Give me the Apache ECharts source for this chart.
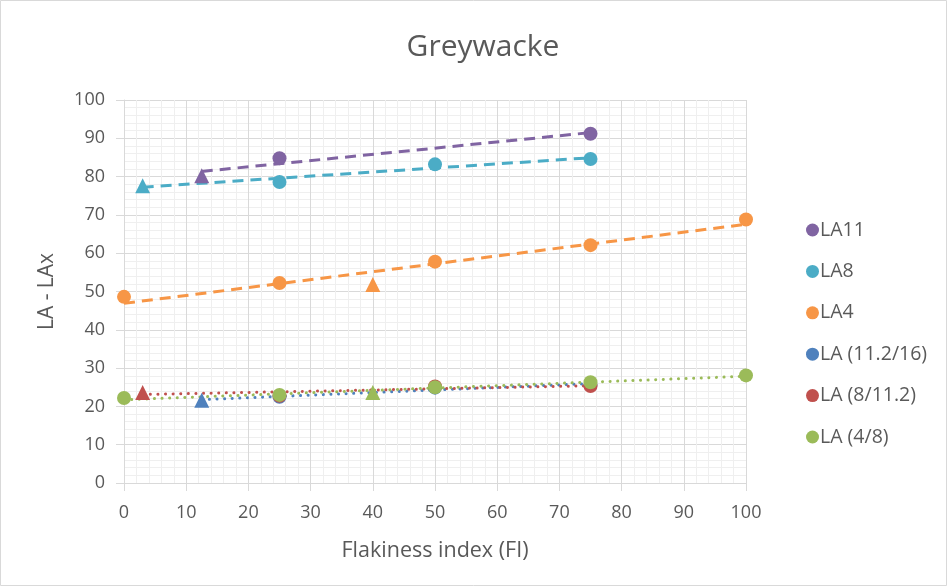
<!DOCTYPE html>
<html>
<head>
<meta charset="utf-8">
<script src="https://cdn.jsdelivr.net/npm/echarts@6/dist/echarts.min.js"></script>
<style>html,body{margin:0;padding:0;background:#fff;}#c{width:948px;height:587px;}</style>
</head>
<body>
<div id="c"></div>
<script>
// ---- data ----
const seriesNames = ['LA11', 'LA8', 'LA4', 'LA (11.2/16)', 'LA (8/11.2)', 'LA (4/8)'];
const colors = ['#8064A2', '#4BACC6', '#F79646', '#4F81BD', '#C0504D', '#9BBB59'];
// [FI, value, isTriangle]
const la11 = [[12.5, 80.2, 1], [25, 84.8, 0], [75, 91.2, 0]];
const la8 = [[3, 77.6, 1], [25, 78.6, 0], [50, 83.2, 0], [75, 84.6, 0]];
const la4 = [[0, 48.6, 0], [25, 52.2, 0], [40, 51.8, 1], [50, 57.8, 0], [75, 62.1, 0], [100, 68.8, 0]];
const la11_2_16 = [[12.5, 21.6, 1], [25, 22.5, 0], [50, 24.9, 0], [75, 25.6, 0]];
const la8_11_2 = [[3, 23.6, 1], [25, 22.8, 0], [50, 25.2, 0], [75, 25.3, 0]];
const la4_8 = [[0, 22.2, 0], [25, 23.0, 0], [40, 23.6, 1], [50, 25.0, 0], [75, 26.3, 0], [100, 28.1, 0]];
const allData = [la11, la8, la4, la11_2_16, la8_11_2, la4_8];
const lineKinds = ['dashed', 'dashed', 'dashed', 'dotted', 'dotted', 'dotted'];
const xTicks = [0, 10, 20, 30, 40, 50, 60, 70, 80, 90, 100];
const yTicks = [0, 10, 20, 30, 40, 50, 60, 70, 80, 90, 100];

// linear least-squares trendline (as Excel does)
function trend(d) {
  const n = d.length;
  let sx = 0, sy = 0;
  d.forEach(p => { sx += p[0]; sy += p[1]; });
  const mx = sx / n, my = sy / n;
  let sxx = 0, sxy = 0;
  d.forEach(p => { sxx += (p[0] - mx) ** 2; sxy += (p[0] - mx) * (p[1] - my); });
  const b = sxy / sxx, a = my - b * mx;
  const xs = d.map(p => p[0]);
  const x0 = Math.min(...xs), x1 = Math.max(...xs);
  return [[x0, a + b * x0], [x1, a + b * x1]];
}

const FONT = 'Open Sans';
const TXT = '#595959';
const series = [];
allData.forEach((d, i) => {
  series.push({
    name: seriesNames[i] + ' trend',
    type: 'line',
    data: trend(d),
    symbol: 'none',
    silent: true,
    z: 2,
    lineStyle: lineKinds[i] === 'dashed'
      ? { color: colors[i], width: 3, type: [11, 7] }
      : { color: colors[i], width: 3, type: [0.1, 7.5], cap: 'round' }
  });
});
allData.forEach((d, i) => {
  series.push({
    name: seriesNames[i],
    type: 'scatter',
    z: 3,
    itemStyle: { color: colors[i], opacity: 1 },
    data: d.map(p => ({
      value: [p[0], p[1]],
      symbol: p[2] ? 'triangle' : 'circle',
      symbolSize: p[2] ? 15 : 14
    }))
  });
});

const chart = echarts.init(document.getElementById('c'), null, { renderer: 'canvas' });
chart.setOption({
  animation: false,
  backgroundColor: '#fff',
  textStyle: { fontFamily: FONT },
  title: {
    text: 'Greywacke', left: 478, top: 27, textAlign: 'center',
    textStyle: { fontFamily: FONT, fontSize: 30, fontWeight: 'normal', color: TXT }
  },
  graphic: [{
    type: 'rect', shape: { x: 0.5, y: 0.5, width: 946, height: 585 },
    style: { fill: 'none', stroke: '#d9d9d9', lineWidth: 1 }, silent: true
  }],
  legend: {
    data: seriesNames.map(n => ({ name: n, icon: 'circle' })),
    orient: 'vertical', left: 801, top: 215,
    itemWidth: 13, itemHeight: 13, itemGap: 21.4,
    textStyle: { fontFamily: FONT, fontSize: 19.5, color: TXT, padding: [0, 0, 0, -4] }
  },
  grid: { left: 124, right: 202, top: 100, bottom: 104, containLabel: false },
  xAxis: {
    type: 'value', min: 0, max: 100, interval: 10,
    name: 'Flakiness index (FI)', nameLocation: 'middle', nameGap: 57,
    nameTextStyle: { fontFamily: FONT, fontSize: 21.5, color: TXT },
    axisLine: { show: true, lineStyle: { color: '#d9d9d9', width: 1 } },
    axisTick: { show: true, length: 8, lineStyle: { color: '#d9d9d9' } },
    axisLabel: { margin: 21, fontFamily: FONT, fontSize: 18, color: TXT,
      formatter: v => xTicks.includes(v) ? String(v) : '' },
    splitLine: { show: true, lineStyle: { color: '#d9d9d9', width: 1 } },
    minorTick: { show: false, splitNumber: 5 },
    minorSplitLine: { show: true, lineStyle: { color: '#efefef', width: 1 } }
  },
  yAxis: {
    type: 'value', min: 0, max: 100, interval: 10,
    name: 'LA - LAx', nameLocation: 'middle', nameGap: 66,
    nameTextStyle: { fontFamily: FONT, fontSize: 21, color: TXT },
    axisLine: { show: true, lineStyle: { color: '#d9d9d9', width: 1 } },
    axisTick: { show: true, length: 8, lineStyle: { color: '#d9d9d9' } },
    axisLabel: { margin: 19, fontFamily: FONT, fontSize: 18, color: TXT,
      formatter: v => yTicks.includes(v) ? String(v) : '' },
    splitLine: { show: true, lineStyle: { color: '#d9d9d9', width: 1 } },
    minorTick: { show: false, splitNumber: 5 },
    minorSplitLine: { show: true, lineStyle: { color: '#efefef', width: 1 } }
  },
  series: series
});
</script>
</body>
</html>
